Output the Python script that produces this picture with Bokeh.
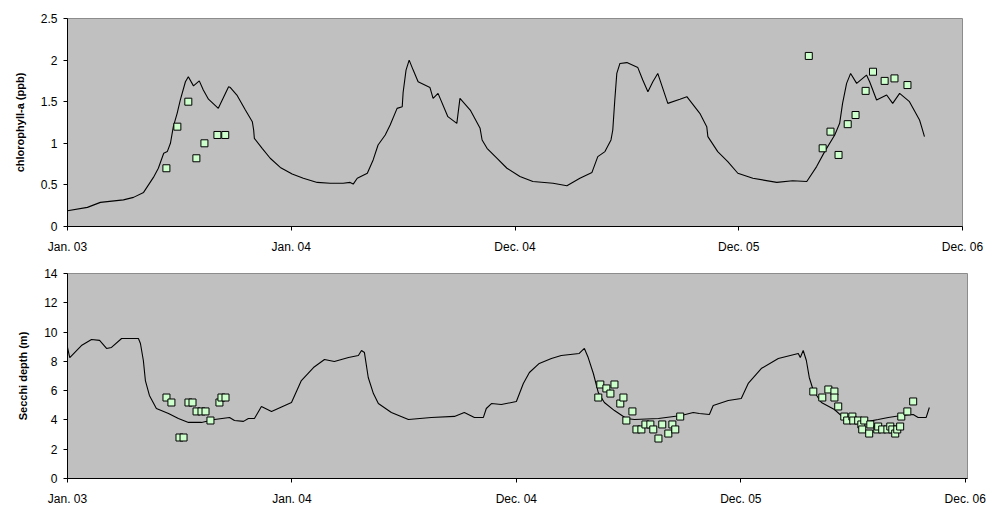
from bokeh.plotting import figure
from bokeh.layouts import column
from bokeh.models import FixedTicker
from bokeh.embed import file_html
from bokeh.resources import INLINE

# ---- data ----
x_ticks = [0, 1, 2, 3, 4]
x_labels = ["Jan. 03", "Jan. 04", "Dec. 04", "Dec. 05", "Dec. 06"]

chl_ticks = [0, 0.5, 1, 1.5, 2, 2.5]
chl_labels = ["0", "0.5", "1", "1.5", "2", "2.5"]
sec_ticks = [0, 2, 4, 6, 8, 10, 12, 14]
sec_labels = ["0", "2", "4", "6", "8", "10", "12", "14"]

chl_t = [0, 0.089, 0.147, 0.25, 0.295, 0.34, 0.362, 0.384, 0.406, 0.43, 0.446, 0.46, 0.473,
         0.49, 0.504, 0.527, 0.54, 0.563, 0.589, 0.607, 0.63, 0.674, 0.72, 0.728, 0.757, 0.795,
         0.826, 0.832, 0.835, 0.87, 0.906, 0.951, 1.004, 1.054, 1.116, 1.174, 1.232, 1.263,
         1.277, 1.295, 1.34, 1.366, 1.388, 1.42, 1.442, 1.473, 1.496, 1.5, 1.513, 1.527, 1.545,
         1.567, 1.62, 1.634, 1.656, 1.7, 1.74, 1.754, 1.8, 1.844, 1.853, 1.875, 1.92, 1.964,
         2.022, 2.08, 2.17, 2.232, 2.29, 2.344, 2.37, 2.402, 2.429, 2.437, 2.446, 2.455, 2.469,
         2.5, 2.549, 2.571, 2.594, 2.616, 2.638, 2.683, 2.737, 2.768, 2.826, 2.857, 2.862,
         2.906, 2.951, 2.996, 3.063, 3.17, 3.241, 3.304, 3.348, 3.384, 3.429, 3.451, 3.464,
         3.482, 3.5, 3.527, 3.571, 3.585, 3.616, 3.661, 3.688, 3.719, 3.763, 3.808, 3.817, 3.83]
chl_v = [0.19, 0.23, 0.29, 0.32, 0.35, 0.41, 0.5, 0.59, 0.7, 0.88, 0.9, 1.0, 1.2,
         1.36, 1.52, 1.74, 1.8, 1.69, 1.75, 1.64, 1.53, 1.42, 1.68, 1.67, 1.58, 1.4,
         1.26, 1.16, 1.06, 0.94, 0.82, 0.71, 0.63, 0.58, 0.53, 0.52, 0.52, 0.53,
         0.51, 0.58, 0.64, 0.8, 0.98, 1.1, 1.22, 1.42, 1.44, 1.61, 1.88, 2.0, 1.88,
         1.74, 1.67, 1.54, 1.6, 1.32, 1.24, 1.54, 1.4, 1.18, 1.04, 0.94, 0.82, 0.7,
         0.6, 0.54, 0.52, 0.49, 0.58, 0.65, 0.84, 0.9, 1.04, 1.16, 1.52, 1.84, 1.96,
         1.97, 1.91, 1.76, 1.62, 1.74, 1.84, 1.48, 1.53, 1.56, 1.36, 1.2, 1.08,
         0.9, 0.78, 0.64, 0.58, 0.53, 0.55, 0.54, 0.72, 0.9, 1.1, 1.24, 1.48,
         1.72, 1.84, 1.72, 1.82, 1.74, 1.52, 1.58, 1.48, 1.6, 1.5, 1.28, 1.2, 1.08]

chl_obs_t = [0.442, 0.491, 0.54, 0.576, 0.612, 0.67, 0.705,
             3.313, 3.375, 3.41, 3.446, 3.487, 3.522, 3.567, 3.6, 3.652, 3.696, 3.754]
chl_obs_v = [0.7, 1.2, 1.5, 0.82, 1.0, 1.1, 1.1,
             2.05, 0.94, 1.14, 0.86, 1.23, 1.34, 1.63, 1.86, 1.75, 1.78, 1.7]

sec_t = [0, 0.01, 0.062, 0.107, 0.143, 0.174, 0.196, 0.241, 0.316, 0.325, 0.338, 0.347, 0.365,
         0.396, 0.45, 0.494, 0.539, 0.597, 0.655, 0.722, 0.744, 0.784, 0.806, 0.833, 0.864,
         0.909, 0.998, 1.042, 1.096, 1.145, 1.189, 1.252, 1.296, 1.31, 1.323, 1.34, 1.363,
         1.385, 1.443, 1.519, 1.621, 1.724, 1.768, 1.813, 1.853, 1.866, 1.889, 1.933, 2.0,
         2.031, 2.058, 2.102, 2.156, 2.2, 2.28, 2.303, 2.32, 2.343, 2.365, 2.392, 2.437, 2.49,
         2.526, 2.633, 2.735, 2.788, 2.815, 2.86, 2.877, 2.944, 3.002, 3.033, 3.091, 3.167,
         3.256, 3.265, 3.278, 3.292, 3.305, 3.323, 3.359, 3.417, 3.461, 3.505, 3.568, 3.612,
         3.657, 3.715, 3.768, 3.79, 3.826, 3.84]
sec_v = [8.95, 8.26, 9.08, 9.49, 9.43, 8.88, 8.95, 9.56, 9.56, 9.22, 8.06, 6.69, 5.67,
         4.78, 4.44, 4.1, 3.83, 3.83, 4.03, 4.17, 3.96, 3.9, 4.1, 4.1, 4.92,
         4.58, 5.19, 6.69, 7.58, 8.13, 7.99, 8.26, 8.4, 8.74, 8.6, 6.9, 5.8,
         5.12, 4.51, 4.03, 4.17, 4.24, 4.51, 4.17, 4.17, 4.78, 5.12, 5.05, 5.26,
         6.49, 7.24, 7.86, 8.2, 8.4, 8.54, 8.88, 8.26, 7.17, 5.87, 5.19, 4.64, 4.1,
         4.03, 4.1, 4.3, 4.51, 4.44, 4.37, 4.99, 5.33, 5.46, 6.49, 7.51, 8.2,
         8.54, 8.26, 8.74, 8.06, 6.9, 6.01, 5.19, 4.71, 4.1, 3.96, 3.9, 4.03,
         4.17, 4.3, 4.37, 4.17, 4.17, 4.85]

sec_obs_t = [0.441, 0.463, 0.499, 0.517, 0.539, 0.557, 0.575, 0.597, 0.615, 0.637, 0.677, 0.686,
             0.704,
             2.365, 2.374, 2.401, 2.419, 2.437, 2.463, 2.477, 2.49, 2.517, 2.535, 2.557, 2.575,
             2.597, 2.61, 2.633, 2.65, 2.677, 2.695, 2.708, 2.73,
             3.323, 3.363, 3.39, 3.417, 3.417, 3.434, 3.461, 3.474, 3.497, 3.501, 3.523, 3.537,
             3.55, 3.541, 3.572, 3.577, 3.608, 3.612, 3.63, 3.653, 3.666, 3.675, 3.688, 3.697,
             3.71, 3.715, 3.742, 3.768]
sec_obs_v = [5.53, 5.19, 2.8, 2.8, 5.19, 5.19, 4.58, 4.58, 4.58, 3.96, 5.19, 5.53, 5.53,
             5.53, 6.42, 6.15, 5.8, 6.42, 5.12, 5.53, 3.96, 4.58, 3.35, 3.35, 3.69, 3.69, 3.35,
             2.73, 3.69, 3.07, 3.69, 3.35, 4.23,
             5.94, 5.53, 6.08, 5.94, 5.53, 4.92, 4.23, 3.96, 4.23, 3.96, 3.96, 3.69, 3.96, 3.35,
             3.07, 3.69, 3.35, 3.55, 3.35, 3.35, 3.55, 3.35, 3.07, 3.35, 3.55, 4.23, 4.58, 5.26]

FONT = "Liberation Sans"


def make_panel(ylabel, yticks, ylabels, ymax, xmax, frame_w, frame_h, left, top, bottom,
               lt, lv, ot, ov):
    p = figure(width=left + frame_w + 26, height=top + frame_h + bottom,
               x_range=(0, xmax), y_range=(0, ymax),
               output_backend="svg", toolbar_location=None,
               min_border_left=left, min_border_right=26,
               min_border_top=top, min_border_bottom=bottom)
    p.frame_width = frame_w
    p.frame_height = frame_h
    p.background_fill_color = "#C0C0C0"
    p.border_fill_color = "white"
    p.outline_line_color = "#8C8C8C"
    p.outline_line_width = 1
    p.grid.visible = False

    p.xaxis.ticker = FixedTicker(ticks=x_ticks)
    p.xaxis.major_label_overrides = {t: l for t, l in zip(x_ticks, x_labels)}
    p.yaxis.ticker = FixedTicker(ticks=yticks)
    p.yaxis.major_label_overrides = {t: l for t, l in zip(yticks, ylabels)}
    for ax in (p.xaxis, p.yaxis):
        ax.axis_line_color = "black"
        ax.axis_line_width = 1
        ax.major_tick_line_color = "black"
        ax.major_tick_in = 0
        ax.major_tick_out = 4
        ax.minor_tick_line_color = None
        ax.major_label_text_font = FONT
        ax.major_label_text_font_size = "12px"
        ax.major_label_text_color = "black"
    p.xaxis.major_label_standoff = 9
    p.yaxis.major_label_standoff = 6
    p.yaxis.axis_label = ylabel
    p.yaxis.axis_label_text_font = FONT
    p.yaxis.axis_label_text_font_size = "11px"
    p.yaxis.axis_label_text_font_style = "bold"
    p.yaxis.axis_label_text_color = "black"
    p.yaxis.axis_label_standoff = 12

    p.line(lt, lv, line_color="black", line_width=1.1)
    p.scatter(ot, ov, marker="square", size=7, fill_color="#CCFFCC",
              line_color="black", line_width=1)
    return p


p1 = make_panel("chlorophyll-a (ppb)", chl_ticks, chl_labels, 2.5, 4.0, 895, 208, 67, 18, 30,
                chl_t, chl_v, chl_obs_t, chl_obs_v)
p2 = make_panel("Secchi depth (m)", sec_ticks, sec_labels, 14, 4.01, 900, 205, 66, 17, 25,
                sec_t, sec_v, sec_obs_t, sec_obs_v)

layout = column(p1, p2, spacing=0)
open("out.html", "w").write(file_html(layout, INLINE))
